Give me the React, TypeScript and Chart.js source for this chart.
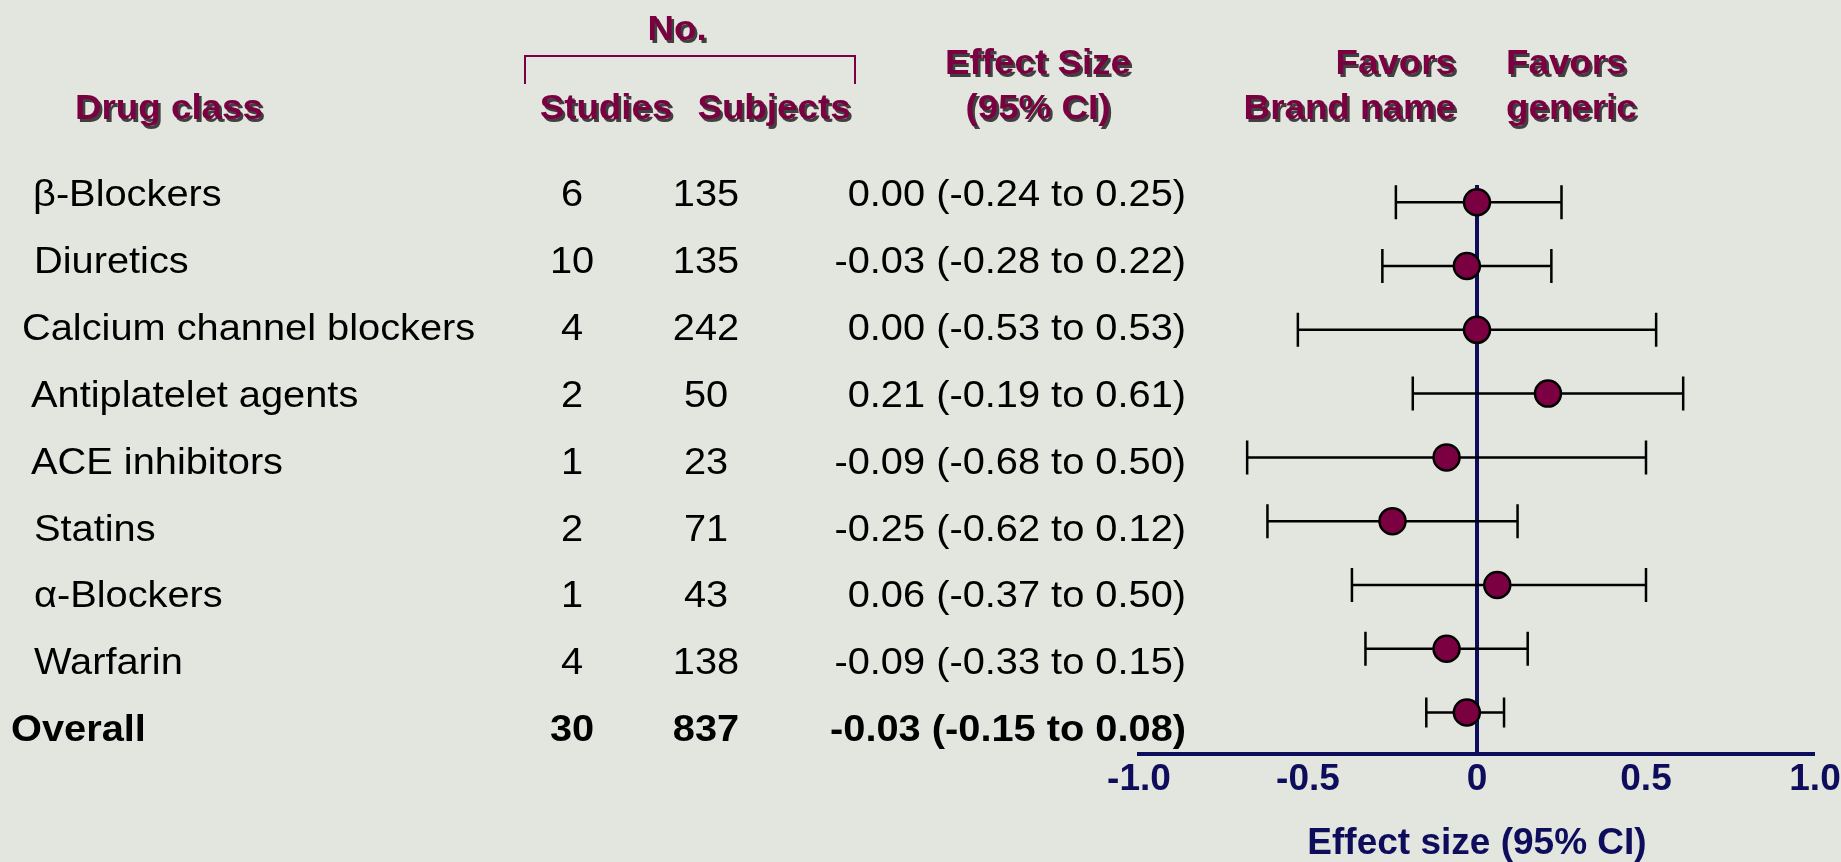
import React, { useEffect, useRef } from "react";
import { Chart, registerables } from "chart.js";

Chart.register(...registerables);

// ---------- data ----------
const drugClasses = [
  "β-Blockers",
  "Diuretics",
  "Calcium channel blockers",
  "Antiplatelet agents",
  "ACE inhibitors",
  "Statins",
  "α-Blockers",
  "Warfarin",
  "Overall",
];
const studies = [6, 10, 4, 2, 1, 2, 1, 4, 30];
const subjects = [135, 135, 242, 50, 23, 71, 43, 138, 837];
const effect = [0.0, -0.03, 0.0, 0.21, -0.09, -0.25, 0.06, -0.09, -0.03];
const ciLow = [-0.24, -0.28, -0.53, -0.19, -0.68, -0.62, -0.37, -0.33, -0.15];
const ciHigh = [0.25, 0.22, 0.53, 0.61, 0.5, 0.12, 0.5, 0.15, 0.08];
const tickValues = [-1, -0.5, 0, 0.5, 1];
const tickLabels = ["-1.0", "-0.5", "0", "0.5", "1.0"];

// ---------- layout / style ----------
const W = 1841;
const H = 862;
const BG = "#e3e6df";
const MAROON = "#7b0042";
const NAVY = "#0d0d5c";
const FONT = "'Liberation Sans', Arial, Helvetica, sans-serif";
const labelX = [33, 34, 22, 31, 31, 34, 34, 34, 11];
const rowBase0 = 206;
const rowStep = 66.9;
const studiesX = 572;
const subjectsX = 706;
const effectRightX = 1186;

type TxtOpt = {
  size: number;
  bold?: boolean;
  color: string;
  align: CanvasTextAlign;
  sx: number;
  shadow?: boolean;
};

function drawText(ctx: CanvasRenderingContext2D, text: string, x: number, y: number, o: TxtOpt) {
  ctx.save();
  ctx.font = `${o.bold ? "bold " : ""}${o.size}px ${FONT}`;
  ctx.textAlign = o.align;
  ctx.textBaseline = "alphabetic";
  if (o.shadow) {
    ctx.save();
    ctx.translate(x + 2.5, y + 2.5);
    ctx.scale(o.sx, 1);
    ctx.fillStyle = "rgba(35,35,35,0.85)";
    ctx.fillText(text, 0, 0);
    ctx.restore();
  }
  ctx.translate(x, y);
  ctx.scale(o.sx, 1);
  ctx.fillStyle = o.color;
  ctx.fillText(text, 0, 0);
  ctx.restore();
}

const fmt = (v: number) => v.toFixed(2);

const errorBarPlugin = {
  id: "errorBars",
  beforeDatasetsDraw(chart: any) {
    const ctx: CanvasRenderingContext2D = chart.ctx;
    const xs = chart.scales.x;
    const ys = chart.scales.y;
    ctx.save();
    ctx.strokeStyle = "#000";
    ctx.lineWidth = 2.5;
    for (let i = 0; i < effect.length; i++) {
      const y = ys.getPixelForValue(i);
      const x1 = xs.getPixelForValue(ciLow[i]);
      const x2 = xs.getPixelForValue(ciHigh[i]);
      const cap = i === effect.length - 1 ? 15 : 17;
      ctx.beginPath();
      ctx.moveTo(x1, y);
      ctx.lineTo(x2, y);
      ctx.moveTo(x1, y - cap);
      ctx.lineTo(x1, y + cap);
      ctx.moveTo(x2, y - cap);
      ctx.lineTo(x2, y + cap);
      ctx.stroke();
    }
    ctx.restore();
  },
};

const tablePlugin = {
  id: "forestTable",
  afterDraw(chart: any) {
    const ctx: CanvasRenderingContext2D = chart.ctx;
    const hdr = (t: string, x: number, y: number, align: CanvasTextAlign) =>
      drawText(ctx, t, x, y, { size: 35, bold: true, color: MAROON, align, sx: 1.05, shadow: true });

    // headers
    hdr("No.", 677, 40, "center");
    hdr("Drug class", 75, 119, "left");
    hdr("Studies", 606, 119, "center");
    hdr("Subjects", 774, 119, "center");
    hdr("Effect Size", 1038, 74, "center");
    hdr("(95% CI)", 1038, 119, "center");
    hdr("Favors", 1456, 74, "right");
    hdr("Brand name", 1456, 119, "right");
    hdr("Favors", 1506, 74, "left");
    hdr("generic", 1506, 119, "left");

    // bracket under "No."
    ctx.save();
    ctx.strokeStyle = MAROON;
    ctx.lineWidth = 2;
    ctx.beginPath();
    ctx.moveTo(525, 84);
    ctx.lineTo(525, 56);
    ctx.lineTo(855, 56);
    ctx.lineTo(855, 84);
    ctx.stroke();
    ctx.restore();

    // rows
    for (let i = 0; i < drugClasses.length; i++) {
      const y = rowBase0 + i * rowStep;
      const bold = i === drugClasses.length - 1;
      const o = { size: 37, bold, color: "#000", sx: 1.075 };
      drawText(ctx, drugClasses[i], labelX[i], y, { ...o, align: "left" });
      drawText(ctx, String(studies[i]), studiesX, y, { ...o, align: "center" });
      drawText(ctx, String(subjects[i]), subjectsX, y, { ...o, align: "center" });
      drawText(
        ctx,
        `${fmt(effect[i])} (${fmt(ciLow[i])} to ${fmt(ciHigh[i])})`,
        effectRightX,
        y,
        { ...o, align: "right" }
      );
    }
  },
};

export default function App() {
  const ref = useRef<HTMLCanvasElement | null>(null);

  useEffect(() => {
    document.body.style.margin = "0";
    document.body.style.background = BG;
    if (!ref.current) return;
    const chart = new Chart(ref.current, {
      type: "scatter",
      data: {
        datasets: [
          {
            data: effect.map((e, i) => ({ x: e, y: i })),
            pointRadius: 13,
            pointHoverRadius: 13,
            backgroundColor: MAROON,
            borderColor: "#000",
            borderWidth: 2.5,
          },
        ],
      },
      options: {
        animation: false,
        responsive: true,
        maintainAspectRatio: false,
        layout: { padding: { left: 1139, right: 0, top: 185, bottom: 0 } },
        plugins: {
          legend: { display: false },
          tooltip: { enabled: false },
        },
        scales: {
          x: {
            type: "linear",
            min: -1,
            max: 1,
            afterBuildTicks: (scale: any) => {
              scale.ticks = tickValues.map((v) => ({ value: v }));
            },
            afterFit: (scale: any) => {
              scale.paddingRight = 26;
            },
            ticks: {
              callback: (_v: any, idx: number) => tickLabels[idx],
              color: NAVY,
              font: { family: FONT, size: 37, weight: "bold", lineHeight: 1 },
              padding: 7,
              maxRotation: 0,
              autoSkip: false,
            },
            grid: {
              drawTicks: false,
              color: (c: any) => (c.tick && c.tick.value === 0 ? NAVY : "rgba(0,0,0,0)"),
              lineWidth: (c: any) => (c.tick && c.tick.value === 0 ? 4 : 0),
            },
            border: { display: true, color: NAVY, width: 4 },
            title: {
              display: true,
              text: "Effect size (95% CI)",
              color: NAVY,
              font: { family: FONT, size: 37, weight: "bold", lineHeight: 1 },
              padding: { top: 20, bottom: 0 },
            },
          },
          y: {
            type: "linear",
            display: false,
            reverse: true,
            min: -0.27,
            max: 8.65,
          },
        },
      },
      plugins: [errorBarPlugin, tablePlugin],
    });
    return () => chart.destroy();
  }, []);

  return (
    <div style={{ width: W, height: H, position: "relative", background: BG }}>
      <canvas ref={ref} />
    </div>
  );
}
